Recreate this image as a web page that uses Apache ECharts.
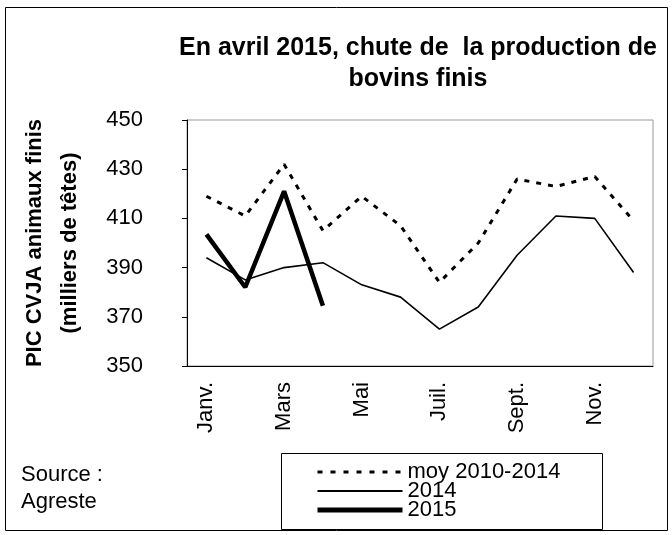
<html>
<head>
    <meta http-equiv="Content-Type" content="text/html; charset=utf-8"/>
    <title>Bovins finis</title>
    <style type="text/css">
        body, #chart {
            border: 0px;
            margin: 0px;
            padding: 0px;
            width: 672px;
            height: 535px;
            background: white;
        }
    </style>
    <script type="text/javascript" src="https://cdn.jsdelivr.net/npm/echarts@6/dist/echarts.min.js"></script>
</head>
<body>
<div id="chart"></div>
<script type="text/javascript">
    var months = ['Janv.', 'Févr.', 'Mars', 'Avr.', 'Mai', 'Juin', 'Juil.', 'Août', 'Sept.', 'Oct.', 'Nov.', 'Déc.'];
    var moy = [419, 411, 432, 405, 419, 407, 384, 400, 426, 423, 427, 409];
    var y2014 = [394, 385, 390, 392, 383, 378, 365, 374, 395, 411, 410, 388];
    var y2015 = [403.5, 382, 421, 374.5];
    var yTicks = [350, 370, 390, 410, 430, 450];

    var font = 'Liberation Sans, Arial, sans-serif';
    var myChart = echarts.init(document.getElementById('chart'));
    var option = {
        animation: false,
        backgroundColor: '#fff',
        color: ['#000', '#000', '#000'],
        textStyle: {fontFamily: font, color: '#000'},
        title: {
            text: 'En avril 2015, chute de  la production de\nbovins finis',
            left: 413,
            top: 28,
            textAlign: 'center',
            textStyle: {fontFamily: font, fontSize: 25, fontWeight: 'bold', lineHeight: 31, color: '#000'}
        },
        grid: {
            left: 187,
            right: 19,
            top: 120,
            height: 246,
            show: true,
            borderColor: '#999',
            borderWidth: 1
        },
        xAxis: {
            type: 'category',
            data: months,
            boundaryGap: true,
            axisLine: {lineStyle: {color: '#000', width: 1}},
            axisTick: {interval: 0, length: 5, lineStyle: {color: '#000'}},
            axisLabel: {
                interval: 1,
                rotate: 90,
                margin: 16,
                fontFamily: font,
                fontSize: 22,
                color: '#000'
            },
            splitLine: {show: false}
        },
        yAxis: {
            type: 'value',
            min: yTicks[0],
            max: yTicks[yTicks.length - 1],
            interval: 20,
            name: 'PIC CVJA animaux finis\n(milliers de têtes)',
            nameLocation: 'middle',
            nameRotate: 90,
            nameGap: 100,
            nameTextStyle: {fontFamily: font, fontSize: 22, fontWeight: 'bold', lineHeight: 35, color: '#000'},
            axisLine: {show: true, lineStyle: {color: '#000', width: 1}},
            axisTick: {show: true, length: 5, lineStyle: {color: '#000'}},
            axisLabel: {fontFamily: font, fontSize: 22, color: '#000', margin: 44},
            splitLine: {show: false}
        },
        legend: {
            orient: 'vertical',
            left: 315,
            top: 461,
            itemWidth: 85,
            itemHeight: 14,
            itemGap: -3,
            itemTextGap: 5,
            padding: 0,
            itemStyle: {opacity: 0},
            textStyle: {fontFamily: font, fontSize: 22, color: '#000', lineHeight: 18},
            data: [
                {name: 'moy 2010-2014', lineStyle: {width: 3, type: [5, 8]}},
                {name: '2014', lineStyle: {width: 2}},
                {name: '2015', lineStyle: {width: 5}}
            ]
        },
        graphic: [
            {
                type: 'rect',
                shape: {x: 5.5, y: 7.5, width: 662, height: 523},
                style: {fill: null, stroke: '#000', lineWidth: 1}
            },
            {
                type: 'rect',
                shape: {x: 281.5, y: 453.5, width: 321, height: 76},
                style: {fill: null, stroke: '#000', lineWidth: 1}
            },
            {
                type: 'text',
                left: 21,
                top: 464,
                style: {text: 'Source :', fontFamily: font, fontSize: 22, fill: '#000'}
            },
            {
                type: 'text',
                left: 21,
                top: 491,
                style: {text: 'Agreste', fontFamily: font, fontSize: 22, fill: '#000'}
            }
        ],
        series: [
            {
                name: 'moy 2010-2014',
                type: 'line',
                data: moy,
                symbol: 'none',
                lineStyle: {color: '#000', width: 3, type: [5, 7]},
                z: 3
            },
            {
                name: '2014',
                type: 'line',
                data: y2014,
                symbol: 'none',
                lineStyle: {color: '#000', width: 1.6},
                z: 2
            },
            {
                name: '2015',
                type: 'line',
                data: y2015,
                symbol: 'none',
                lineStyle: {color: '#000', width: 4.5},
                z: 4
            }
        ]
    };
    myChart.setOption(option);
</script>
</body>
</html>
